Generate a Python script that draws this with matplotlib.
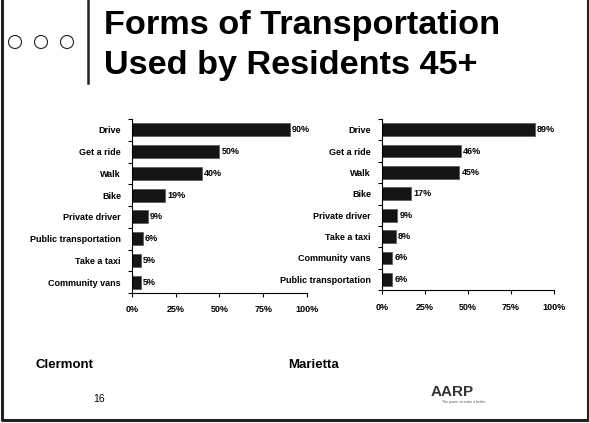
import numpy as np
import matplotlib
matplotlib.use("Agg")
import matplotlib.pyplot as plt
from matplotlib.patches import Circle

plt.rcParams["font.family"] = ["Liberation Sans", "DejaVu Sans"]

# Clermont
clermont_modos = ["Drive", "Get a ride", "Walk", "Bike", "Private driver",
                  "Public transportation", "Take a taxi", "Community vans"]
clermont_pct = [90, 50, 40, 19, 9, 6, 5, 5]

# Marietta
marietta_modos = ["Drive", "Get a ride", "Walk", "Bike", "Private driver",
                  "Take a taxi", "Community vans", "Public transportation"]
marietta_pct = [89, 46, 45, 17, 9, 8, 6, 6]

ticks_x = [0, 25, 50, 75, 100]
ticks_x_txt = ["0%", "25%", "50%", "75%", "100%"]

W, H = 589, 423
fig = plt.figure(figsize=(W / 100, H / 100), dpi=100)

# capa de fondo en pixeles para los adornos de la diapositiva
fondo = fig.add_axes([0, 0, 1, 1])
fondo.set_xlim(0, W)
fondo.set_ylim(H, 0)
fondo.axis("off")
fondo.plot([2, 2, 587.5, 587.5], [0, 420, 420, 0], color="#222222", lw=2.2)
fondo.plot([88, 88], [0, 83], color="#222222", lw=1.8)
for cx in [15, 41, 67]:
    fondo.add_patch(Circle((cx, 42), 6.5, fill=False, ec="#222222", lw=0.8))
fondo.text(104, 34, "Forms of Transportation", fontsize=24.7, fontweight="bold", va="baseline")
fondo.text(104, 74, "Used by Residents 45+", fontsize=24.7, fontweight="bold", va="baseline")
fondo.text(36, 368, "Clermont", fontsize=9.5, fontweight="bold", va="baseline")
fondo.text(288, 368, "Marietta", fontsize=9.5, fontweight="bold", va="baseline")
fondo.text(93, 402, "16", fontsize=7.5, va="baseline")
fondo.text(452, 396, "AARP", fontsize=11, fontweight="bold", color="#333333",
           ha="center", va="baseline", stretch="condensed")
fondo.text(464, 403, "The power to make it better.", fontsize=2.5, color="#555555",
           ha="center", va="baseline")


def grafica(pos, modos, valores):
    ax = fig.add_axes(pos)
    y = np.arange(len(modos))
    ax.barh(y, valores, height=0.6, color="#141414", edgecolor="#555555", lw=0.5)
    for yi, v in zip(y, valores):
        ax.text(v + 1.2, yi, f"{v}%", fontsize=6.5, fontweight="bold", va="center")
    ax.set_xlim(0, 100)
    ax.set_ylim(len(modos) - 0.5, -0.5)
    ax.set_yticks(y)
    ax.set_yticklabels(modos, fontsize=6.5, fontweight="bold")
    ax.tick_params(axis="y", length=0, pad=8)
    ax.set_yticks(np.arange(len(modos) + 1) - 0.5, minor=True)
    ax.tick_params(axis="y", which="minor", length=3, width=0.8)
    ax.set_xticks(ticks_x)
    ax.set_xticklabels(ticks_x_txt, fontsize=6.5, fontweight="bold")
    ax.tick_params(axis="x", length=3, width=0.8, pad=6)
    for s in ["top", "right"]:
        ax.spines[s].set_visible(False)
    ax.spines["left"].set_linewidth(0.8)
    ax.spines["bottom"].set_linewidth(0.8)
    return ax


grafica([132 / W, 1 - 293 / H, 175 / W, 174 / H], clermont_modos, clermont_pct)
grafica([382 / W, 1 - 290 / H, 172 / W, 171 / H], marietta_modos, marietta_pct)

fig.savefig("out.png", dpi=100)
